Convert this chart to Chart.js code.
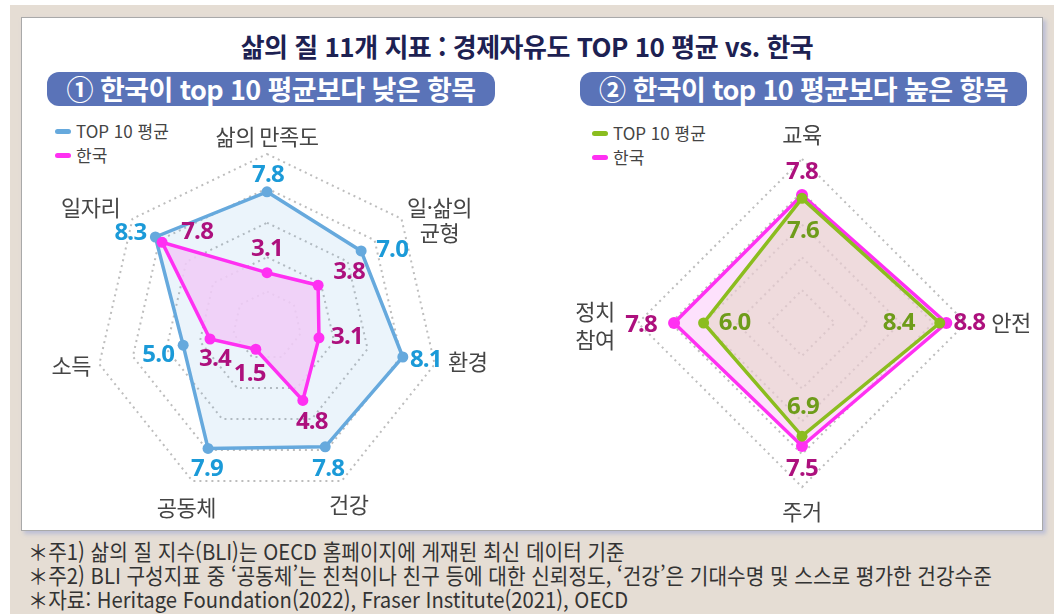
<!DOCTYPE html>
<html lang="ko">
<head>
<meta charset="utf-8">
<script src="https://cdn.jsdelivr.net/npm/chart.js@4/dist/chart.umd.min.js"></script>
<style>
  html, body { margin: 0; padding: 0; background: #fff; }
  body { width: 1054px; height: 614px; position: relative; overflow: hidden; font-family: "Noto Sans CJK KR", sans-serif; }
  #bg { position: absolute; left: 10px; top: 5px; right: 0; bottom: 0; background: #e5ddd4; }
  #panel { position: absolute; left: 21px; top: 17px; width: 1020px; height: 512px; background: #fff;
           border: 1px solid #a9a9a9; box-shadow: 3px 3px 4px rgba(160,170,215,0.6); }
  #title { position: absolute; left: 0; width: 1054px; top: 27px; text-align: center; font-size: 26px; font-weight: 700;
           color: #1d2152; line-height: 38px; letter-spacing: -0.5px; }
  .pill { position: absolute; top: 72px; height: 34px; background: #5a73b8; border-radius: 12px; color: #fff;
          font-size: 27px; font-weight: 700; line-height: 34px; text-align: center; letter-spacing: -0.6px; }
  .legend { position: absolute; font-size: 17px; color: #444; line-height: 24px; }
  .legend div { display: flex; align-items: center; }
  .legend span.sw { display: inline-block; width: 16px; height: 5px; border-radius: 3px; margin-right: 5px; }
  canvas { position: absolute; }
  #notes { position: absolute; left: 28px; top: 538px; font-size: 22px; color: #333; line-height: 24px; white-space: nowrap; }
  #notes div { transform-origin: left center; transform: scaleX(0.92); }
</style>
</head>
<body>
<div id="bg"></div>
<div id="panel"></div>
<div id="title">삶의 질 11개 지표 : 경제자유도 TOP 10 평균 vs. 한국</div>
<div class="pill" style="left:47px; width:448px;">① 한국이 top 10 평균보다 낮은 항목</div>
<div class="pill" style="left:580px; width:447px;">② 한국이 top 10 평균보다 높은 항목</div>
<div class="legend" id="legendL" style="left:55px; top:119px;"></div>
<div class="legend" id="legendR" style="left:592px; top:121px;"></div>
<canvas id="leftChart" width="506" height="420" style="left:21px; top:110px;"></canvas>
<canvas id="rightChart" width="515" height="420" style="left:527px; top:110px;"></canvas>
<div id="notes">
  <div>＊주1) 삶의 질 지수(BLI)는 OECD 홈페이지에 게재된 최신 데이터 기준</div>
  <div>＊주2) BLI 구성지표 중 ‘공동체’는 친척이나 친구 등에 대한 신뢰정도, ‘건강’은 기대수명 및 스스로 평가한 건강수준</div>
  <div>＊자료: Heritage Foundation(2022), Fraser Institute(2021), OECD</div>
</div>
<script>
// 데이터
const seriesNames = ['TOP 10 평균', '한국'];

const leftLabels = ['삶의 만족도', ['일·삶의', '균형'], '환경', '건강', '공동체', '소득', '일자리'];
const leftTop10 = [7.8, 7.0, 8.1, 7.8, 7.9, 5.0, 8.3];
const leftKorea = [3.1, 3.8, 3.1, 4.8, 1.5, 3.4, 7.8];

const rightLabels = ['교육', '안전', '주거', ['정치', '참여']];
const rightTop10 = [7.6, 8.4, 6.9, 6.0];
const rightKorea = [7.8, 8.8, 7.5, 7.8];

const axisMax = 10;
const axisStep = 2;

// 라벨 위치 (축 끝 / 점 기준 오프셋)
const leftAxisOffsets = [[0, -17], [38, -11], [33, -3], [7, 24], [-6, 27], [-28, 1], [-42, -11]];
const leftValueOffsets = [
  [[1, -17], [31, -1], [23, 3], [3, 22], [-1, 21], [-25, 10], [-25, -4]],
  [[0, -24], [31, -13], [28, -1], [9, 22], [-6, 25], [5, 20], [35, -10]]
];
const rightAxisOffsets = [[0, -24], [45, 0], [0, 25], [-43, -11]];
const rightValueOffsets = [
  [[1, 33], [-41, 0], [1, -29], [31, 0]],
  [[0, -23], [23, 0], [0, 23], [-33, 2]]
];

// 축 이름 + 값 라벨 그리기
function makeLabelPlugin(cfg) {
  return {
    id: 'labels_' + cfg.name,
    afterDatasetsDraw(chart) {
      const ctx = chart.ctx;
      const r = chart.scales.r;
      ctx.save();
      ctx.textAlign = 'center';
      ctx.textBaseline = 'middle';
      ctx.font = '22px "Noto Sans CJK KR"';
      ctx.fillStyle = '#454545';
      ctx.letterSpacing = '-0.5px';
      chart.data.labels.forEach((lab, i) => {
        const p = r.getPointPosition(i, r.drawingArea);
        const [dx, dy] = cfg.axisOffsets[i];
        const lines = Array.isArray(lab) ? lab : [lab];
        lines.forEach((t, k) => ctx.fillText(t, p.x + dx, p.y + dy + k * cfg.lineHeight));
      });
      ctx.font = 'bold 24px "Open Sans"';
      ctx.letterSpacing = '-0.8px';
      chart.data.datasets.forEach((ds, d) => {
        const meta = chart.getDatasetMeta(d);
        ctx.fillStyle = cfg.valueColors[d];
        meta.data.forEach((pt, i) => {
          const [dx, dy] = cfg.valueOffsets[d][i];
          ctx.fillText(ds.data[i].toFixed(1), pt.x + dx, pt.y + dy);
        });
      });
      ctx.restore();
    }
  };
}

function radarOptions(pad) {
  return {
    responsive: false,
    animation: false,
    layout: { padding: pad },
    plugins: { legend: { display: false }, tooltip: { enabled: false } },
    scales: {
      r: {
        min: 0,
        max: axisMax,
        ticks: { display: false, stepSize: axisStep },
        pointLabels: { display: false },
        angleLines: { display: false },
        grid: { color: '#bdbdbd', lineWidth: 2 },
        border: { dash: [2, 4] }
      }
    }
  };
}

function makeLegend(id, colors) {
  document.getElementById(id).innerHTML = seriesNames.map((n, i) =>
    '<div><span class="sw" style="background:' + colors[i] + '"></span>' + n + '</div>').join('');
}

const blue = '#66a9dd', magenta = '#ff30f2', green = '#8bbd1f';
makeLegend('legendL', [blue, magenta]);
makeLegend('legendR', [green, magenta]);

function drawCharts() {
  new Chart(document.getElementById('leftChart'), {
    type: 'radar',
    data: {
      labels: leftLabels,
      datasets: [{
        label: seriesNames[0],
        data: leftTop10,
        order: 1,
        borderColor: blue,
        backgroundColor: 'rgba(100,168,222,0.13)',
        fill: true,
        borderWidth: 3.5,
        pointRadius: 5.5,
        pointBackgroundColor: blue,
        pointBorderWidth: 0
      }, {
        label: seriesNames[1],
        data: leftKorea,
        order: 0,
        borderColor: magenta,
        backgroundColor: 'rgba(242,205,248,0.85)',
        fill: true,
        borderWidth: 3.5,
        pointRadius: 5.5,
        pointBackgroundColor: magenta,
        pointBorderWidth: 0
      }]
    },
    options: radarOptions({ left: 74, top: 44, right: 88, bottom: 32 }),
    plugins: [makeLabelPlugin({
      name: 'left', axisOffsets: leftAxisOffsets, valueOffsets: leftValueOffsets,
      lineHeight: 25, valueColors: ['#1b9ad8', '#ad107d']
    })]
  });

  new Chart(document.getElementById('rightChart'), {
    type: 'radar',
    data: {
      labels: rightLabels,
      datasets: [{
        label: seriesNames[0],
        data: rightTop10,
        order: 0,
        borderColor: green,
        backgroundColor: 'rgba(206,201,148,0.3)',
        fill: true,
        borderWidth: 3.5,
        pointRadius: 5.5,
        pointBackgroundColor: green,
        pointBorderWidth: 0
      }, {
        label: seriesNames[1],
        data: rightKorea,
        order: 1,
        borderColor: magenta,
        backgroundColor: 'rgba(252,205,250,0.6)',
        fill: true,
        borderWidth: 3.5,
        pointRadius: 6,
        pointBackgroundColor: magenta,
        pointBorderWidth: 0
      }]
    },
    options: radarOptions({ left: 111, top: 49, right: 76, bottom: 43 }),
    plugins: [makeLabelPlugin({
      name: 'right', axisOffsets: rightAxisOffsets, valueOffsets: rightValueOffsets,
      lineHeight: 28, valueColors: ['#6e9c1a', '#ad107d']
    })]
  });
}

Promise.all([
  document.fonts.load('bold 24px "Open Sans"'),
  document.fonts.load('22px "Noto Sans CJK KR"')
]).then(drawCharts, drawCharts);
</script>
</body>
</html>
